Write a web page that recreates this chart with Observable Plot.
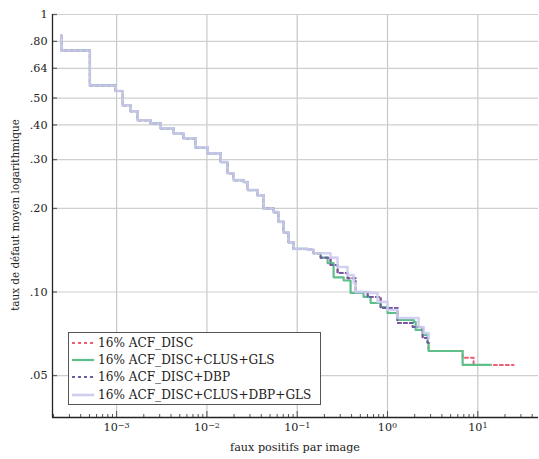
<!DOCTYPE html>
<html><head><meta charset="utf-8">
<script src="https://cdn.jsdelivr.net/npm/d3@7"></script>
<script src="https://cdn.jsdelivr.net/npm/@observablehq/plot@0.6"></script>
<style>
body{margin:0;background:#fff;font-family:"DejaVu Serif",serif;}
#wrap{position:relative;width:539px;height:459px;overflow:hidden;}
#legend{position:absolute;left:68px;top:332px;width:251px;height:71px;border:1px solid #555;background:#fff;font-size:12.1px;color:#222;}
.row{position:absolute;left:3px;height:17px;display:flex;align-items:center;white-space:nowrap;}
.row svg{margin-right:4px;}
</style></head><body><div id="wrap"></div>
<script>
// Series names (legend)
const seriesNames = ["16% ACF_DISC", "16% ACF_DISC+CLUS+GLS", "16% ACF_DISC+DBP", "16% ACF_DISC+CLUS+DBP+GLS"];
const seriesColors = ["#ee5d72", "#5ebf8b", "#6d5aa6", "#cdcdee"];

// Shared beginning of all curves: [faux positifs par image, taux de défaut]
const commonPath = [
  [2.44e-4, 0.840], [2.44e-4, 0.742], [5.06e-4, 0.555], [9.75e-4, 0.530],
  [1.156e-3, 0.471], [1.43e-3, 0.448], [1.71e-3, 0.416], [2.38e-3, 0.405],
  [3.07e-3, 0.389], [4.28e-3, 0.373], [5.52e-3, 0.358], [7.50e-3, 0.332],
  [0.0102, 0.316], [0.0142, 0.294], [0.0169, 0.268], [0.0198, 0.253],
  [0.0255, 0.249], [0.0283, 0.233], [0.0364, 0.223], [0.0425, 0.200],
  [0.0548, 0.194], [0.0622, 0.179], [0.0706, 0.164], [0.0803, 0.151],
  [0.0912, 0.143]
];
// Tails of each curve
const acfTail = [
  [0.130, 0.142], [0.152, 0.138], [0.182, 0.133], [0.234, 0.125], [0.280, 0.117],
  [0.361, 0.112], [0.444, 0.100], [0.603, 0.096], [0.840, 0.0876], [1.29, 0.0774],
  [1.90, 0.0748], [2.45, 0.0683], [2.78, 0.0656], [2.85, 0.0613], [6.79, 0.0579],
  [8.98, 0.0546], [24.9, 0.0546]
];
const clusGlsTail = [
  [0.130, 0.142], [0.152, 0.138], [0.182, 0.133], [0.217, 0.127], [0.253, 0.113],
  [0.327, 0.110], [0.390, 0.0992], [0.543, 0.0960], [0.650, 0.0913], [0.840, 0.0883],
  [1.00, 0.0840], [1.29, 0.0793], [1.95, 0.0780], [2.05, 0.0730], [2.45, 0.0700],
  [2.78, 0.0656], [2.85, 0.0613], [6.79, 0.0546], [13.9, 0.0546]
];
const dbpTail = [
  [0.130, 0.142], [0.152, 0.138], [0.182, 0.133], [0.234, 0.125], [0.280, 0.117],
  [0.361, 0.112], [0.444, 0.100], [0.603, 0.096], [0.840, 0.0876], [1.29, 0.0774],
  [1.90, 0.0748], [2.45, 0.0683], [2.78, 0.0656], [2.85, 0.0656]
];
const allTail = [
  [0.130, 0.142], [0.152, 0.138], [0.234, 0.133], [0.280, 0.123], [0.361, 0.115],
  [0.422, 0.108], [0.444, 0.100], [0.650, 0.0992], [0.776, 0.0921], [1.00, 0.0861],
  [1.29, 0.0806], [2.21, 0.0748], [2.51, 0.0712], [2.85, 0.0677]
];

const xDomain = [1.95e-4, 47];
const yDomain = [0.0353, 1];
const xMajor = [1e-3, 1e-2, 1e-1, 1, 10];
const yTicks = [0.05, 0.10, 0.20, 0.30, 0.40, 0.50, 0.64, 0.80, 1];
const xMinor = [];
for (let e = -4; e <= 1; e++) for (let m = 2; m <= 9; m++) {
  const v = m * Math.pow(10, e);
  if (v > xDomain[0] && v < xDomain[1]) xMinor.push(v);
}

const series = [
  commonPath.concat(acfTail),
  commonPath.concat(clusGlsTail),
  commonPath.concat(dbpTail),
  commonPath.concat(allTail)
];
const styles = [
  {strokeWidth: 2, strokeDasharray: "3,3"},
  {strokeWidth: 2.2},
  {strokeWidth: 2, strokeDasharray: "3,3"},
  {strokeWidth: 2.6, strokeOpacity: 0.9}
];
const yFmt = d => d === 1 ? "1" : d3.format(".2f")(d).replace(/^0/, "");
const FS = "11.2px";

const chart = Plot.plot({
  width: 539, height: 459,
  marginLeft: 52, marginRight: 1, marginTop: 14, marginBottom: 42,
  style: {fontFamily: "'DejaVu Serif', serif", fontSize: FS, color: "#222", background: "#fff"},
  x: {type: "log", domain: xDomain},
  y: {type: "log", domain: yDomain, axis: null},
  marks: [
    Plot.ruleX(xMajor, {stroke: "#c8c8c8", strokeWidth: 1.2}),
    Plot.ruleY(yTicks, {stroke: "#cfcfcf", strokeWidth: 1.2}),
    Plot.axisX(xMinor, {tickSize: -3, tickFormat: () => "", stroke: "#555"}),
    Plot.axisX(xMajor, {tickSize: -6, tickPadding: 12, stroke: "#555", label: null,
      tickFormat: d => "10^" + Math.round(Math.log10(d))}),
    Plot.ruleY(yTicks, {x1: xDomain[0], x2: xDomain[0], insetRight: -5, stroke: "#666", strokeWidth: 1.3}),
    Plot.text(yTicks, {y: d => d, text: yFmt, frameAnchor: "left", textAnchor: "end", dx: -5, fill: "#222"}),
    Plot.ruleX([xDomain[0]], {stroke: "#222", strokeWidth: 1.3}),
    Plot.ruleY([yDomain[0]], {stroke: "#222", strokeWidth: 1.3}),
    ...series.map((s, i) => Plot.line(s, {x: d => d[0], y: d => d[1], curve: "step-after",
      stroke: seriesColors[i], ...styles[i]}))
  ]
});

const svg = d3.select(chart);
svg.selectAll('g[aria-label="x-axis tick label"] text').each(function() {
  const t = this.textContent;
  if (!t.includes("^")) return;
  const [b, e] = t.split("^");
  const sel = d3.select(this);
  sel.text(null);
  sel.append("tspan").text(b);
  sel.append("tspan").attr("dy", "-0.45em").attr("font-size", "8px").text(e.replace("-", "−"));
});
svg.append("text").attr("transform", "translate(19,215) rotate(-90)")
  .attr("text-anchor", "middle").attr("fill", "#222").attr("font-size", "10.4px")
  .text("taux de défaut moyen logarithmique");
svg.append("text").attr("x", 295).attr("y", 451)
  .attr("text-anchor", "middle").attr("fill", "#222").attr("font-size", FS)
  .text("faux positifs par image");

const wrap = document.getElementById("wrap");
wrap.appendChild(chart);
const legend = document.createElement("div");
legend.id = "legend";
seriesNames.forEach((name, i) => {
  const row = document.createElement("div");
  row.className = "row";
  row.style.top = (1 + i * 17.4) + "px";
  const st = styles[i];
  row.innerHTML = `<svg width="22" height="8"><line x1="0" x2="22" y1="4" y2="4" stroke="${seriesColors[i]}" stroke-width="${st.strokeWidth}" ${st.strokeDasharray ? `stroke-dasharray="${st.strokeDasharray}"` : ""}/></svg><span></span>`;
  row.querySelector("span").textContent = name;
  legend.appendChild(row);
});
wrap.appendChild(legend);
</script>
</body></html>
